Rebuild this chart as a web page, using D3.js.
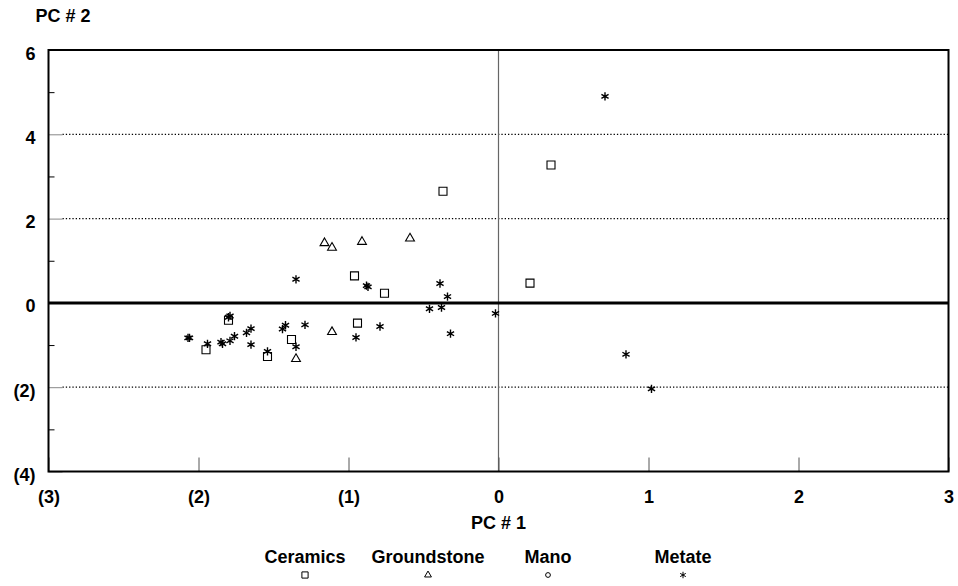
<!DOCTYPE html>
<html>
<head>
<meta charset="utf-8">
<script src="https://cdn.jsdelivr.net/npm/d3@7"></script>
<style>
  body { margin: 0; background: #fff; }
  text { font-family: "Liberation Sans", Arial, sans-serif; font-weight: bold; }
</style>
</head>
<body>
<svg width="958" height="586"></svg>
<script>
// data: [PC1, PC2]
var ceramics = [[0.35, 3.27], [-0.37, 2.65], [0.21, 0.47], [-0.96, 0.64], [-0.76, 0.23],
    [-0.94, -0.48], [-1.38, -0.87], [-1.80, -0.41], [-1.95, -1.11], [-1.54, -1.27]];
var groundstone = [[-1.16, 1.42], [-1.11, 1.31], [-0.91, 1.45], [-0.59, 1.53],
    [-1.11, -0.69], [-1.35, -1.33]];
var mano = [];
var metate = [[0.71, 4.90], [0.85, -1.22], [1.02, -2.04], [-1.35, 0.56], [-0.87, 0.38],
    [-0.88, 0.41], [-0.39, 0.46], [-0.34, 0.15], [-0.46, -0.14], [-0.38, -0.11],
    [-0.02, -0.25], [-0.32, -0.73], [-0.79, -0.56], [-0.95, -0.82], [-1.29, -0.52],
    [-1.42, -0.53], [-1.44, -0.62], [-1.35, -1.04], [-1.79, -0.31], [-1.80, -0.34],
    [-2.06, -0.83], [-2.07, -0.83], [-1.94, -0.97], [-1.85, -0.93], [-1.84, -0.97],
    [-1.79, -0.90], [-1.76, -0.79], [-1.68, -0.71], [-1.65, -0.61], [-1.65, -0.99],
    [-1.54, -1.15]];

var seriesNames = ["Ceramics", "Groundstone", "Mano", "Metate"];
var xTicks = [-3, -2, -1, 0, 1, 2, 3];
var yTicks = [-4, -2, 0, 2, 4, 6];
var yMinor = [-3, -1, 1, 3, 5];
var gridLines = [-2, 2, 4];

var svg = d3.select("svg"),
    margin = {top: 50, right: 9.5, bottom: 114.5, left: 48.5},
    width = +svg.attr("width") - margin.left - margin.right,
    height = +svg.attr("height") - margin.top - margin.bottom,
    g = svg.append("g").attr("transform", "translate(" + margin.left + "," + margin.top + ")");

var x = d3.scaleLinear().domain([-3, 3]).range([0, width]);
var y = d3.scaleLinear().domain([-4, 6]).range([height, 0]);

// negative numbers in brackets
var fmt = function (v) { return v < 0 ? "(" + (-v) + ")" : "" + v; };

// dotted grid
g.selectAll(".grid")
    .data(gridLines)
    .enter().append("line")
    .attr("x1", 14).attr("x2", width)
    .attr("y1", function (d) { return y(d); })
    .attr("y2", function (d) { return y(d); })
    .attr("stroke", "#000")
    .attr("stroke-width", 1.2)
    .attr("stroke-dasharray", "1.3,2");

// vertical line at 0
g.append("line")
    .attr("x1", x(0)).attr("x2", x(0))
    .attr("y1", 0).attr("y2", height)
    .attr("stroke", "#666").attr("stroke-width", 1.2);

// y axis
var yAxis = g.append("g")
    .call(d3.axisLeft(y).tickValues(yTicks).tickFormat(fmt).tickSize(-14).tickPadding(13));
yAxis.select(".domain").remove();
yAxis.selectAll("line").attr("stroke", "#888");
yAxis.selectAll("text").attr("dy", null).attr("y", 9)
    .style("font-size", "18px").attr("fill", "#000");

var yAxisMinor = g.append("g")
    .call(d3.axisLeft(y).tickValues(yMinor).tickFormat("").tickSize(-6));
yAxisMinor.select(".domain").remove();
yAxisMinor.selectAll("line").attr("stroke", "#000");

// x axis
var xAxis = g.append("g")
    .attr("transform", "translate(0," + height + ")")
    .call(d3.axisBottom(x).tickValues(xTicks).tickFormat(fmt).tickSize(-14));
xAxis.select(".domain").remove();
xAxis.selectAll("line").attr("stroke", "#555");
xAxis.selectAll("text").attr("dy", null).attr("y", 31)
    .style("font-size", "18px").attr("fill", "#000");

// zero line
g.append("line")
    .attr("x1", 0).attr("x2", width)
    .attr("y1", y(0)).attr("y2", y(0))
    .attr("stroke", "#000").attr("stroke-width", 3);

// frame
g.append("rect")
    .attr("width", width).attr("height", height)
    .attr("fill", "none").attr("stroke", "#000").attr("stroke-width", 2);

var shapes = [
    {name: "Ceramics", data: ceramics, type: d3.symbolSquare, size: 64},
    {name: "Groundstone", data: groundstone, type: d3.symbolTriangle, size: 34},
    {name: "Mano", data: mano, type: d3.symbolCircle, size: 30},
    {name: "Metate", data: metate, type: d3.symbolAsterisk, size: 48}
];

shapes.forEach(function (s) {
    g.selectAll(".pt-" + s.name)
        .data(s.data)
        .enter().append("path")
        .attr("transform", function (d) { return "translate(" + x(d[0]) + "," + y(d[1]) + ")"; })
        .attr("d", d3.symbol().type(s.type).size(s.size))
        .attr("fill", "none")
        .attr("stroke", "#000")
        .attr("stroke-width", s.type === d3.symbolAsterisk ? 1.4 : 1.1);
});

// axis titles
svg.append("text").attr("x", 63).attr("y", 22).attr("text-anchor", "middle")
    .style("font-size", "18px").text("PC # 2");
svg.append("text").attr("x", margin.left + x(0)).attr("y", 529).attr("text-anchor", "middle")
    .style("font-size", "18px").text("PC # 1");

// legend
var legendCenters = [305, 428, 548, 683];
var lg = svg.selectAll(".legend")
    .data(shapes)
    .enter().append("g")
    .attr("transform", function (d, i) { return "translate(" + legendCenters[i] + ",0)"; });
lg.append("text").attr("y", 563).attr("text-anchor", "middle")
    .style("font-size", "18px").text(function (d, i) { return seriesNames[i]; });
lg.append("path")
    .attr("transform", "translate(0,575)")
    .attr("d", function (d) { return d3.symbol().type(d.type).size(d.size * 0.6)(); })
    .attr("fill", "none").attr("stroke", "#000").attr("stroke-width", 1);
</script>
</body>
</html>
